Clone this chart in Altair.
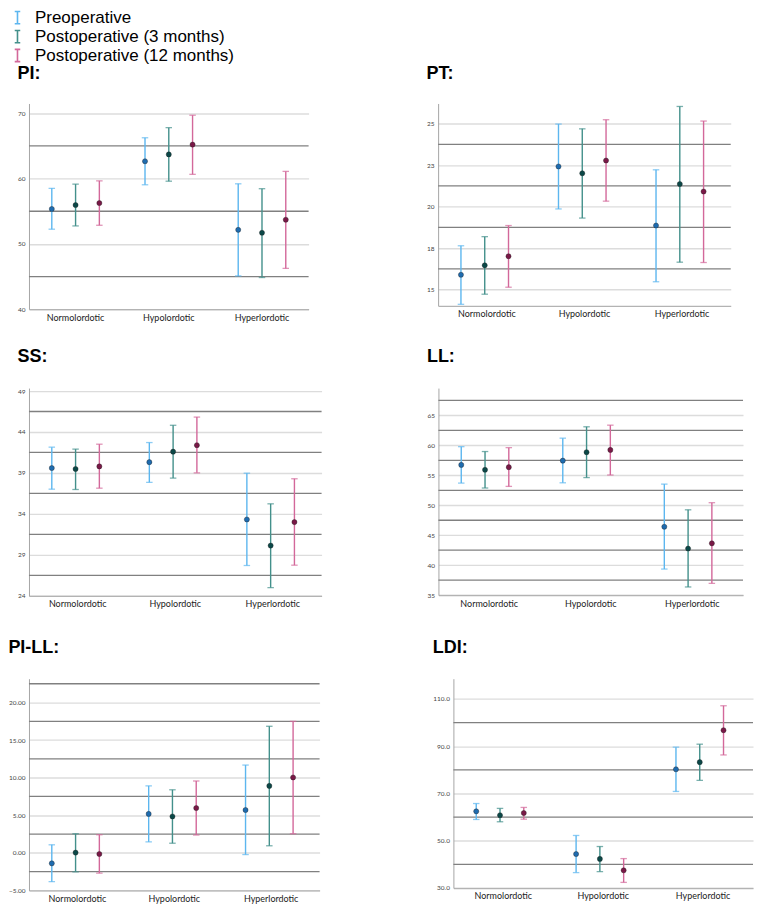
import altair as alt
import pandas as pd

SERIES = ["Preoperative", "Postoperative (3 months)", "Postoperative (12 months)"]
GROUPS = ["Normolordotic", "Hypolordotic", "Hyperlordotic"]
BAR_COLORS = ["#5CB6EF", "#43908B", "#D3689A"]
DOT_COLORS = ["#1E6CB0", "#0B4848", "#7A1847"]

# values per series (rows) and group (columns): mean, lower and upper error-bar ends
PI_MEAN = [[55.35, 62.65, 52.15], [55.95, 63.7, 51.7], [56.25, 65.2, 53.7]]
PI_LOW = [[52.25, 59.05, 45.1], [52.75, 59.6, 44.85], [52.85, 60.65, 46.25]]
PI_HIGH = [[58.5, 66.25, 59.2], [59.15, 67.8, 58.45], [59.65, 69.7, 61.1]]
PI_TICKS = [40, 50, 60, 70]
PI_REF = [45, 55, 65]

PT_MEAN = [[15.89, 22.42, 18.86], [16.46, 22.01, 21.36], [17.01, 22.78, 20.91]]
PT_LOW = [[14.11, 19.86, 15.47], [14.72, 19.31, 16.65], [15.14, 20.33, 16.63]]
PT_HIGH = [[17.64, 24.98, 22.22], [18.19, 24.69, 26.04], [18.86, 25.24, 25.16]]
PT_TICKS = [15, 17.5, 20, 22.5, 25]
PT_REF = [16.25, 18.75, 21.25, 23.75]

SS_MEAN = [[39.6, 40.32, 33.32], [39.49, 41.6, 30.13], [39.8, 42.39, 33.0]]
SS_LOW = [[37.02, 37.85, 27.7], [36.98, 38.37, 25.0], [37.14, 39.01, 27.74]]
SS_HIGH = [[42.15, 42.71, 38.97], [41.91, 44.82, 35.23], [42.51, 45.82, 38.29]]
SS_TICKS = [24, 29, 34, 39, 44, 49]
SS_REF = [26.5, 31.5, 36.5, 41.5, 46.5]

LL_MEAN = [[56.74, 57.45, 46.41], [55.92, 58.86, 42.77], [56.36, 59.24, 43.64]]
LL_LOW = [[53.7, 53.75, 39.35], [52.88, 54.62, 36.36], [53.15, 55.05, 36.96]]
LL_HIGH = [[59.78, 61.2, 53.53], [58.97, 63.1, 49.24], [59.62, 63.37, 50.43]]
LL_TICKS = [35, 40, 45, 50, 55, 60, 65]
LL_REF = [37.5, 42.5, 47.5, 52.5, 57.5, 62.5, 67.5]

PILL_MEAN = [[-1.4, 5.18, 5.7], [0.03, 4.84, 8.91], [-0.15, 5.96, 10.03]]
PILL_LOW = [[-3.83, 1.46, -0.23], [-2.53, 1.28, 0.94], [-2.7, 2.37, 2.54]]
PILL_HIGH = [[1.07, 8.91, 11.68], [2.54, 8.39, 16.84], [2.41, 9.56, 17.49]]
PILL_TICKS = [-5, 0, 5, 10, 15, 20]
PILL_REF = [-2.5, 2.5, 7.5, 12.5, 17.5, 22.5]

LDI_MEAN = [[62.41, 44.34, 80.21], [60.76, 42.28, 83.24], [61.72, 37.45, 96.76]]
LDI_LOW = [[58.97, 36.48, 70.83], [58.0, 36.9, 75.52], [59.1, 32.34, 86.28]]
LDI_HIGH = [[65.72, 52.2, 89.59], [63.66, 47.52, 90.83], [64.07, 42.41, 107.1]]
LDI_TICKS = [30, 50, 70, 90, 110]
LDI_REF = [40, 60, 80, 100]

LEGEND = alt.Legend(
    title=None, orient="none", legendX=-20, legendY=-94.5, direction="vertical",
    symbolType="M-0.45,-1H0.45M0,-1V1M-0.45,1H0.45", symbolSize=150,
    symbolStrokeWidth=1.6, labelFont="Liberation Sans", labelFontSize=17,
    labelColor="black", labelOffset=9, labelLimit=400, rowPadding=0,
)


def panel(title, mean, low, high, ticks, refs, domain, fmt, width, height, offset):
    recs = []
    for si, s in enumerate(SERIES):
        for gi, g in enumerate(GROUPS):
            recs.append(dict(group=g, series=s, mean=mean[si][gi],
                             low=low[si][gi], high=high[si][gi]))
    df = pd.DataFrame(recs)
    yscale = alt.Scale(domain=domain, nice=False, zero=False)
    yaxis = alt.Axis(title=None, values=ticks, format=fmt, grid=True,
                     gridColor="#dcdcdc", gridWidth=1.4, ticks=False,
                     domainColor="#a6a6a6", domainWidth=1, labelFont="Lato",
                     labelFontSize=6.5, labelColor="#444", labelPadding=4)
    xenc = alt.X("group:N", sort=GROUPS,
                 scale=alt.Scale(paddingInner=0, paddingOuter=0),
                 axis=alt.Axis(title=None, labelAngle=0, ticks=False,
                               domainColor="#b3b3b3", domainWidth=1.2,
                               labelFont="Lato", labelFontSize=9,
                               labelColor="#222", labelPadding=4, grid=False))
    xoff = alt.XOffset("series:N", sort=SERIES,
                       scale=alt.Scale(paddingInner=0, paddingOuter=0.46))
    cscale = alt.Scale(domain=SERIES, range=BAR_COLORS)

    refl = alt.Chart(pd.DataFrame({"ref": refs})).mark_rule(
        color="#808080", strokeWidth=1.3
    ).encode(y=alt.Y("ref:Q", scale=yscale, axis=yaxis))
    base = alt.Chart(df)
    bars = base.mark_rule(strokeWidth=1.4).encode(
        x=xenc, xOffset=xoff,
        y=alt.Y("low:Q", scale=yscale, axis=yaxis), y2="high:Q",
        color=alt.Color("series:N", sort=SERIES, scale=cscale, legend=LEGEND),
    )
    caps = base.transform_fold(["low", "high"], as_=["end", "val"]).mark_tick(
        size=6.5, thickness=1.3
    ).encode(
        x=xenc, xOffset=xoff,
        y=alt.Y("val:Q", scale=yscale, axis=yaxis),
        color=alt.Color("series:N", sort=SERIES, scale=cscale, legend=None),
    )
    dots = base.mark_circle(size=26, opacity=1, stroke="#222", strokeWidth=0.4).encode(
        x=xenc, xOffset=xoff,
        y=alt.Y("mean:Q", scale=yscale, axis=yaxis),
        fill=alt.Fill("series:N", sort=SERIES,
                      scale=alt.Scale(domain=SERIES, range=DOT_COLORS), legend=None),
    )
    return alt.layer(refl, bars, caps, dots).properties(
        width=width, height=height,
        title=alt.TitleParams(text=title, anchor="start", frame="bounds",
                              fontSize=18, font="Liberation Sans",
                              fontWeight="bold", color="black", offset=offset),
    )


pi = panel("PI:", PI_MEAN, PI_LOW, PI_HIGH, PI_TICKS, PI_REF, [40, 71.5], "d", 280, 206, 21)
pt = panel("PT:", PT_MEAN, PT_LOW, PT_HIGH, PT_TICKS, PT_REF, [14.02, 26.22], ".0f", 293, 202.6, 21)
ss = panel("SS:", SS_MEAN, SS_LOW, SS_HIGH, SS_TICKS, SS_REF, [24, 49.36], "d", 293, 208, 22.5)
ll = panel("LL:", LL_MEAN, LL_LOW, LL_HIGH, LL_TICKS, LL_REF, [35, 69.56], "d", 305, 207.3, 22.5)
pill = panel("PI-LL:", PILL_MEAN, PILL_LOW, PILL_HIGH, PILL_TICKS, PILL_REF, [-5, 23.17], ".2f", 291, 212, 22)
ldi = panel("LDI:", LDI_MEAN, LDI_LOW, LDI_HIGH, LDI_TICKS, LDI_REF, [30, 118.55], ".1f", 300, 209.5, 22)

row1 = alt.hconcat(pi, pt, spacing=116.7)
row2 = alt.hconcat(ss, ll, spacing=104)
row3 = alt.hconcat(pill, ldi, spacing=112)

chart = alt.vconcat(
    alt.vconcat(row1, row2, spacing=25), row3, spacing=30
).properties(
    padding={"left": 0, "top": 0, "right": 2, "bottom": 0}
).configure_view(stroke=None)

chart.save("out.html", embed_options={"renderer": "svg", "actions": False})
